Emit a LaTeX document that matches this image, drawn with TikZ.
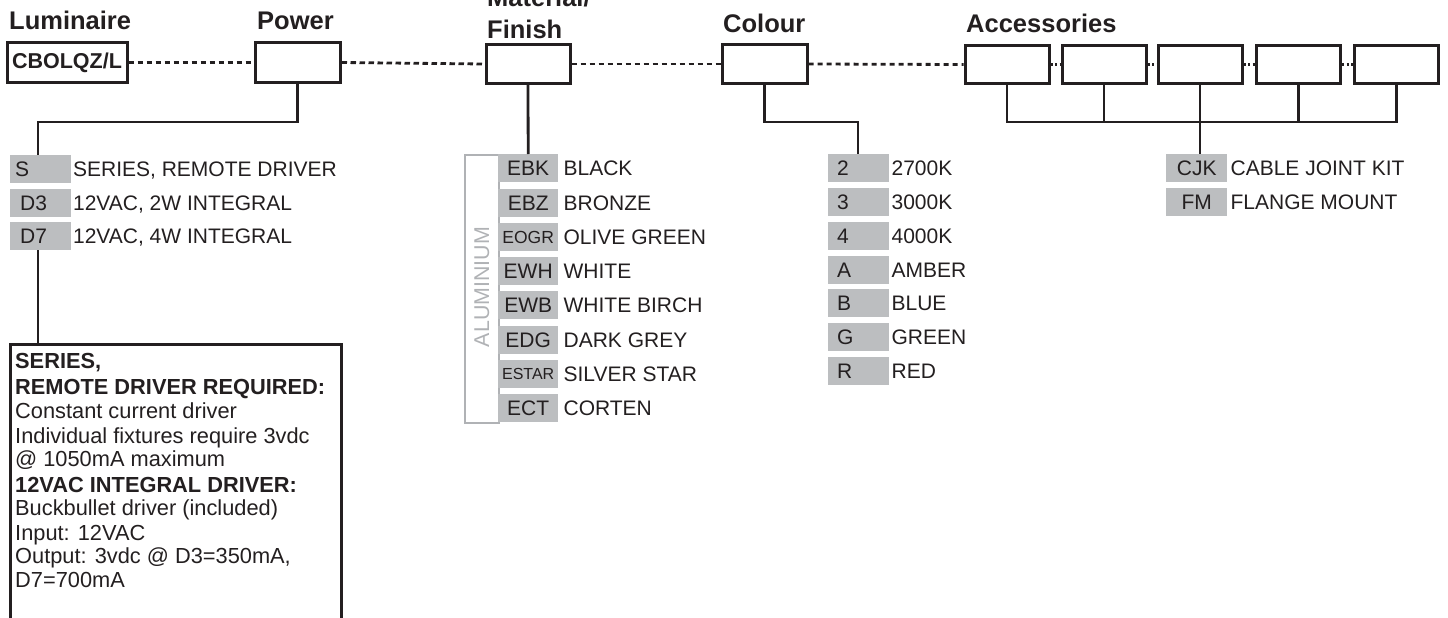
\documentclass[tikz,border=0pt]{standalone}
\usepackage{fontspec}
\setmainfont{Liberation Sans}
\definecolor{ink}{HTML}{231F20}
\definecolor{codegrey}{HTML}{BCBEC0}
\definecolor{alugrey}{HTML}{B0B2B5}
\begin{document}
\begin{tikzpicture}[x=1pt,y=-1pt,
  title/.style={font=\fontsize{25.5}{28}\selectfont\bfseries, text=ink, inner sep=0, anchor=base west},
  selbox/.style={draw=ink, line width=3pt, fill=white, minimum height=38pt, inner sep=0},
  lbl/.style={font=\fontsize{21}{24}\selectfont, text=ink, inner sep=0, anchor=west, text height=15pt, text depth=0pt},
  codebox/.style={fill=codegrey, minimum height=28pt, inner sep=0, anchor=north west, text=ink, font=\fontsize{21}{24}\selectfont, text height=15pt, text depth=0pt},
  leftcode/.style={codebox, text width=#1, align=left},
  conn/.style={draw=ink, line width=2.8pt},
  dashone/.style={draw=ink, line width=2.8pt, dash pattern=on 5.5pt off 3.5pt},
  dashtwo/.style={draw=ink, line width=2.8pt, dash pattern=on 5pt off 4pt},
  dotline/.style={draw=ink, line width=2.8pt, dash pattern=on 2pt off 2.5pt},
  notetxt/.style={font=\fontsize{21.8}{24}\selectfont, text=ink, inner sep=0, anchor=base west},
  notebold/.style={notetxt, font=\fontsize{21.8}{24}\selectfont\bfseries}]
\useasboundingbox (0,0) rectangle (1448,618);
\clip (0,0) rectangle (1448,618);

% titles
\node[title] (tlum) at (9,30) {Luminaire};
\node[title] (tpow) at (257,30) {Power};
\node[title] (tmata) at (487,7) {Material/};
\node[title] (tmatb) at (487,39) {Finish};
\node[title] (tcol) at (723,33) {Colour};
\node[title] (tacc) at (966,33) {Accessories};

% selection boxes
\node[selbox, minimum width=120pt, minimum height=39pt, font=\fontsize{21.5}{24}\selectfont\bfseries, text=ink] (lum) at (67,62.5) {CBOLQZ/L};
\node[selbox, minimum width=85pt, minimum height=39pt] (pow) at (297.5,62.5) {};
\node[selbox, minimum width=84pt] (mat) at (528,64) {};
\node[selbox, minimum width=85pt] (col) at (764.5,64) {};
\node[selbox, minimum width=84pt, minimum height=37pt] (a1) at (1007,64.5) {};
\node[selbox, minimum width=84pt, minimum height=37pt] (a2) at (1104,64.5) {};
\node[selbox, minimum width=84pt, minimum height=37pt] (a3) at (1200,64.5) {};
\node[selbox, minimum width=84pt, minimum height=37pt] (a4) at (1298.5,64.5) {};
\node[selbox, minimum width=84pt, minimum height=37pt] (a5) at (1396.5,64.5) {};

% dashed chain
\draw[dashone] (lum.east) -- (pow.west);
\draw[dashone] (pow.east) -- (mat.west);
\draw[dashtwo] (mat.east) -- (col.west);
\draw[dashtwo] (col.east) -- (a1.west);
\draw[dotline] (a1.east) -- (a2.west);
\draw[dotline] (a2.east) -- (a3.west);
\draw[dotline] (a3.east) -- (a4.west);
\draw[dotline] (a4.east) -- (a5.west);

% power options
\node[leftcode=51pt, inner xsep=5pt] (ps) at (10,155) {S};
\node[leftcode=51pt, inner xsep=5pt] (pd3) at (10,188.5) {\hspace*{5pt}D3};
\node[leftcode=51pt, inner xsep=5pt] (pd7) at (10,222) {\hspace*{5pt}D7};
\node[lbl] (lps) at ([xshift=1.5pt]ps.east) {SERIES, REMOTE DRIVER};
\node[lbl] (lpd3) at ([xshift=1.5pt]pd3.east) {12VAC, 2W INTEGRAL};
\node[lbl] (lpd7) at ([xshift=1.5pt]pd7.east) {12VAC, 4W INTEGRAL};

% note box
\node[draw=ink, line width=2.8pt, minimum width=331pt, minimum height=300pt, anchor=north west, inner sep=0] (note) at (9,343) {};
\node[notebold] (n1) at (15,368) {SERIES,};
\node[notebold] (n2) at (15,394) {REMOTE DRIVER REQUIRED:};
\node[notetxt] (n3) at (15,418) {Constant current driver};
\node[notetxt] (n4) at (15,443) {Individual fixtures require 3vdc};
\node[notetxt] (n5) at (15,466) {@ 1050mA maximum};
\node[notebold] (n6) at (15,492) {12VAC INTEGRAL DRIVER:};
\node[notetxt] (n7) at (15,515) {Buckbullet driver (included)};
\node[notetxt] (n8) at (15,540) {Input: 12VAC};
\node[notetxt] (n9) at (15,563) {Output: 3vdc @ D3=350mA,};
\node[notetxt] (n10) at (15,587) {D7=700mA};

% power connectors
\coordinate (pj) at (38,122);
\draw[conn] (pow.south) |- (pj) -- (pj |- ps.north);
\draw[conn] (pj |- pd7.south) -- (pj |- note.north);

% material options
\node[draw=alugrey, line width=2pt, minimum width=34pt, minimum height=268pt, anchor=north west, inner sep=0] (alu) at (464,154) {};
\node[font=\fontsize{21.4}{24}\selectfont, text=alugrey, rotate=90, inner sep=0, text height=15pt, text depth=0pt] (alut) at (481.5,287) {ALUMINIUM};
\node[codebox, minimum width=60pt] (m1) at (498,154) {EBK};
\node[codebox, minimum width=60pt] (m2) at (498,188.3) {EBZ};
\node[codebox, minimum width=60pt, font=\fontsize{17.5}{20}\selectfont, text height=12.5pt] (m3) at (498,222.6) {EOGR};
\node[codebox, minimum width=60pt] (m4) at (498,256.9) {EWH};
\node[codebox, minimum width=60pt] (m5) at (498,291.2) {EWB};
\node[codebox, minimum width=60pt] (m6) at (498,325.5) {EDG};
\node[codebox, minimum width=60pt, font=\fontsize{16}{18}\selectfont, text height=11.5pt] (m7) at (498,359.8) {ESTAR};
\node[codebox, minimum width=60pt] (m8) at (498,394.1) {ECT};
\node[lbl] (lm1) at ([xshift=5pt]m1.east) {BLACK};
\node[lbl] (lm2) at ([xshift=5pt]m2.east) {BRONZE};
\node[lbl] (lm3) at ([xshift=5pt]m3.east) {OLIVE GREEN};
\node[lbl] (lm4) at ([xshift=5pt]m4.east) {WHITE};
\node[lbl] (lm5) at ([xshift=5pt]m5.east) {WHITE BIRCH};
\node[lbl] (lm6) at ([xshift=5pt]m6.east) {DARK GREY};
\node[lbl] (lm7) at ([xshift=5pt]m7.east) {SILVER STAR};
\node[lbl] (lm8) at ([xshift=5pt]m8.east) {CORTEN};
\draw[conn] (mat.south) -- (m1.north);

% colour options
\node[leftcode=43pt, inner xsep=9pt] (c1) at (828,154) {2};
\node[leftcode=43pt, inner xsep=9pt] (c2) at (828,187.8) {3};
\node[leftcode=43pt, inner xsep=9pt] (c3) at (828,221.6) {4};
\node[leftcode=43pt, inner xsep=9pt] (c4) at (828,255.4) {A};
\node[leftcode=43pt, inner xsep=9pt] (c5) at (828,289.2) {B};
\node[leftcode=43pt, inner xsep=9pt] (c6) at (828,323) {G};
\node[leftcode=43pt, inner xsep=9pt] (c7) at (828,356.8) {R};
\node[lbl] (lc1) at ([xshift=2pt]c1.east) {2700K};
\node[lbl] (lc2) at ([xshift=2pt]c2.east) {3000K};
\node[lbl] (lc3) at ([xshift=2pt]c3.east) {4000K};
\node[lbl] (lc4) at ([xshift=2pt]c4.east) {AMBER};
\node[lbl] (lc5) at ([xshift=2pt]c5.east) {BLUE};
\node[lbl] (lc6) at ([xshift=2pt]c6.east) {GREEN};
\node[lbl] (lc7) at ([xshift=2pt]c7.east) {RED};
\coordinate (cj) at (858,122);
\draw[conn] (col.south) |- (cj) -- (cj |- c1.north);

% accessories options
\node[codebox, minimum width=61pt] (x1) at (1166,154) {CJK};
\node[codebox, minimum width=61pt] (x2) at (1166,188) {FM};
\node[lbl] (lx1) at ([xshift=3pt]x1.east) {CABLE JOINT KIT};
\node[lbl] (lx2) at ([xshift=3pt]x2.east) {FLANGE MOUNT};
\coordinate (bus) at (0,122);
\draw[conn] (a1.south) -- (a1.south |- bus) -- (a5.south |- bus) -- (a5.south);
\draw[conn] (a2.south) -- (a2.south |- bus);
\draw[conn] (a4.south) -- (a4.south |- bus);
\draw[conn] (a3.south) -- (a3.south |- x1.north);
\end{tikzpicture}
\end{document}
